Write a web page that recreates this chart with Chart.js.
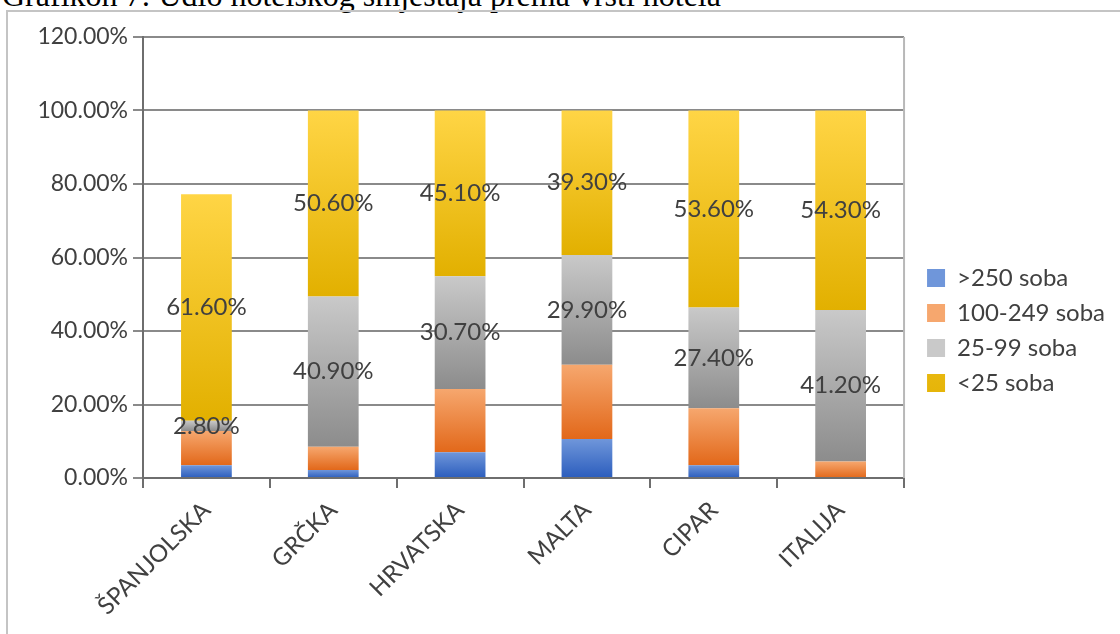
<!DOCTYPE html>
<html>
<head>
<meta charset="utf-8">
<script src="https://cdn.jsdelivr.net/npm/chart.js@4.4.1/dist/chart.umd.min.js"></script>
<style>
  body { margin: 0; background: #fff; width: 1120px; height: 634px; overflow: hidden; position: relative; }
  #naslov { position: absolute; left: 2px; top: -21px; font-family: "Liberation Serif", serif; font-size: 32px; line-height: 32px; color: #000; white-space: nowrap; }
  #okvir { position: absolute; left: 6px; top: 10px; width: 1200px; height: 700px; border-left: 2px solid #c4c4c4; border-top: 2px solid #c4c4c4; }
  #wrap { position: absolute; left: 0; top: 0; width: 1120px; height: 634px; }
</style>
</head>
<body>
<div id="naslov">Grafikon 7: Udio hotelskog smještaja prema vrsti hotela</div>
<div id="okvir"></div>
<div id="wrap"><canvas id="grafikon"></canvas></div>
<script>
// podaci (u postocima)
const drzave = ['ŠPANJOLSKA', 'GRČKA', 'HRVATSKA', 'MALTA', 'CIPAR', 'ITALIJA'];
const preko250 = [3.5, 2.2, 7.0, 10.6, 3.5, 0];
const od100do249 = [9.3, 6.3, 17.2, 20.2, 15.5, 4.5];
const od25do99 = [2.8, 40.9, 30.7, 29.9, 27.4, 41.2];
const ispod25 = [61.6, 50.6, 45.1, 39.3, 53.6, 54.3];
const nazivi = ['>250 soba', '100-249 soba', '25-99 soba', '<25 soba'];
const yTicks = [0, 20, 40, 60, 80, 100, 120];

// boje: svijetla gore, tamna dolje
const boje = [['#6f96da', '#2b5dbd'], ['#f6a76e', '#e2681a'], ['#c9c9c9', '#8c8c8c'], ['#ffd545', '#e2b000']];
const srednje = ['#4472c4', '#ed7d31', '#a5a5a5', '#ffc000'];

function gradijent(ctx) {
    const chart = ctx.chart;
    const i = ctx.datasetIndex;
    if (ctx.type !== 'data' || !chart.scales || !chart.scales.y) return srednje[i];
    let base = 0;
    for (let k = 0; k < i; k++) base += chart.data.datasets[k].data[ctx.dataIndex];
    const v = chart.data.datasets[i].data[ctx.dataIndex];
    const y = chart.scales.y;
    const top = y.getPixelForValue(base + v);
    const bot = y.getPixelForValue(base);
    if (!isFinite(top) || !isFinite(bot) || top === bot) return srednje[i];
    const g = chart.ctx.createLinearGradient(0, top, 0, bot);
    g.addColorStop(0, boje[i][0]);
    g.addColorStop(1, boje[i][1]);
    return g;
}

// oznake vrijednosti samo za zadnje dvije serije
const oznake = {
    id: 'oznake',
    afterDatasetsDraw(chart) {
        const c = chart.ctx;
        c.save();
        c.font = '24px Lato';
        c.fillStyle = '#404040';
        c.textAlign = 'center';
        c.textBaseline = 'middle';
        [2, 3].forEach(di => {
            const meta = chart.getDatasetMeta(di);
            meta.data.forEach((bar, i) => {
                const v = chart.data.datasets[di].data[i];
                c.fillText(v.toFixed(2) + '%', bar.x, (bar.y + bar.base) / 2);
            });
        });
        c.restore();
    }
};

// desni rub podrucja grafa + legenda malo udesno
const desniRub = {
    id: 'desniRub',
    afterLayout(chart) {
        const l = chart.legend;
        if (l) { l.left += 12; l.right += 12; }
    },
    afterDraw(chart) {
        const a = chart.chartArea;
        const c = chart.ctx;
        c.save();
        c.strokeStyle = '#b8b8b8';
        c.lineWidth = 2;
        c.beginPath();
        c.moveTo(a.right, a.top);
        c.lineTo(a.right, a.bottom);
        c.stroke();
        c.restore();
    }
};

const serije = [preko250, od100do249, od25do99, ispod25];

new Chart(document.getElementById('grafikon'), {
    type: 'bar',
    data: {
        labels: drzave,
        datasets: serije.map((d, i) => ({
            label: nazivi[i],
            data: d,
            backgroundColor: gradijent,
            borderWidth: 0,
            categoryPercentage: 1,
            barPercentage: 0.4
        }))
    },
    options: {
        responsive: true,
        maintainAspectRatio: false,
        animation: false,
        layout: { padding: { top: 37, left: 0, right: 17, bottom: 10 } },
        plugins: {
            tooltip: { enabled: false },
            legend: {
                position: 'right',
                labels: {
                    boxWidth: 18,
                    boxHeight: 18,
                    padding: 11,
                    color: '#404040',
                    font: { family: 'Lato', size: 24 }
                }
            }
        },
        scales: {
            x: {
                stacked: true,
                afterFit: s => { s.height = 146; },
                grid: { drawOnChartArea: false, color: '#6e6e6e', lineWidth: 2, tickLength: 10 },
                border: { color: '#6e6e6e', width: 2 },
                ticks: {
                    color: '#404040',
                    font: { family: 'Lato', size: 24 },
                    minRotation: 45,
                    maxRotation: 45,
                    autoSkip: false,
                    padding: 8
                }
            },
            y: {
                stacked: true,
                min: 0,
                max: 120,
                afterFit: s => { s.width = 143; },
                afterBuildTicks: s => { s.ticks = yTicks.map(v => ({ value: v })); },
                grid: { color: '#8a8a8a', lineWidth: 2, tickLength: 10 },
                border: { color: '#6e6e6e', width: 2 },
                ticks: {
                    color: '#404040',
                    font: { family: 'Lato', size: 23 },
                    padding: 5,
                    callback: v => v.toFixed(2) + '%'
                }
            }
        }
    },
    plugins: [oznake, desniRub]
});
</script>
</body>
</html>
